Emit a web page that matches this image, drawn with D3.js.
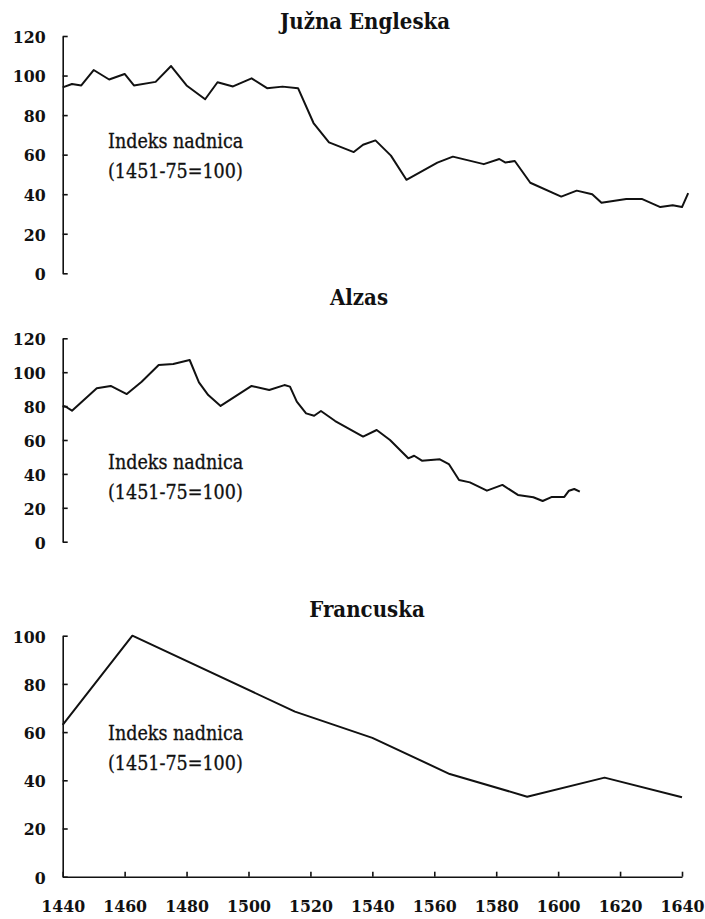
<!DOCTYPE html>
<html>
<head>
<meta charset="utf-8">
<script src="https://cdn.jsdelivr.net/npm/d3@7"></script>
<style>
  body { margin: 0; background: #fff; }
</style>
</head>
<body>
<div id="my_dataviz"></div>
<script>
var width = 705,
    height = 919

var serif = "'DejaVu Serif Condensed', 'DejaVu Serif'"

// data
var englandYears  = [1440, 1443, 1446, 1450, 1455, 1460, 1463, 1470, 1475, 1480, 1486, 1490, 1495, 1501, 1506, 1511, 1516, 1521, 1526, 1534, 1537, 1541, 1546, 1551, 1561, 1566, 1576, 1581, 1583, 1586, 1591, 1601, 1606, 1611, 1614, 1622, 1627, 1633, 1637, 1640, 1642]
var englandValues = [94, 95.7, 95, 102.8, 98, 100.8, 95, 96.8, 104.8, 95, 88, 96.6, 94.5, 98.6, 93.6, 94.4, 93.6, 76, 66.2, 61.3, 65, 67.2, 59.5, 47.3, 56, 59, 55.2, 57.8, 56, 56.8, 45.8, 38.8, 41.8, 40, 35.7, 37.6, 37.6, 33.5, 34.4, 33.5, 40.5]

var alsaceYears  = [1440, 1441, 1443, 1451, 1455.5, 1460.7, 1465.5, 1471, 1475.7, 1481, 1484, 1487, 1491, 1501, 1506.7, 1511.6, 1513.4, 1515.6, 1518.6, 1521.2, 1523.4, 1528, 1537, 1541.4, 1545.7, 1551.6, 1553.5, 1556, 1561.8, 1564.7, 1568, 1571.5, 1577, 1582, 1587, 1592, 1595, 1598, 1602, 1603.5, 1605.2, 1607]
var alsaceValues = [80.2, 79.6, 77.3, 90.5, 91.9, 87.1, 94.4, 104.2, 104.8, 107.2, 94, 86.5, 80.1, 91.9, 89.5, 92.4, 91.5, 82.6, 75.7, 74.3, 77.1, 71.2, 62, 65.9, 60, 49.2, 50.7, 47.8, 48.6, 45.8, 36.4, 35, 30.1, 33.5, 27.6, 26.2, 24, 26.4, 26.4, 30.1, 31.1, 29.5]

var franceYears  = [1440, 1462.5, 1515, 1540, 1565, 1590, 1615, 1640]
var franceValues = [63, 100, 68.5, 57.6, 42.6, 33.2, 41.1, 33]

var yearTicks = [1440, 1460, 1480, 1500, 1520, 1540, 1560, 1580, 1600, 1620, 1640]
var titles = ["Južna Engleska", "Alzas", "Francuska"]
var noteLines = ["Indeks nadnica", "(1451-75=100)"]

var panels = [
  {title: titles[0], years: englandYears, values: englandValues, max: 120, top: 36,    bottom: 273.3, titleX: 365, titleY: 29,  noteY: 148, xAxis: false},
  {title: titles[1], years: alsaceYears,  values: alsaceValues,  max: 120, top: 338.3, bottom: 541.7, titleX: 359, titleY: 305, noteY: 469, xAxis: false},
  {title: titles[2], years: franceYears,  values: franceValues,  max: 100, top: 635.7, bottom: 876.7, titleX: 367, titleY: 617, noteY: 740, xAxis: true}
]

var svg = d3.select("#my_dataviz")
  .append("svg")
    .attr("width", width)
    .attr("height", height)

var x = d3.scaleLinear()
  .domain([1440, 1640])
  .range([62.7, 682])

panels.forEach(function(p) {
  var y = d3.scaleLinear()
    .domain([0, p.max])
    .range([p.bottom, p.top])

  var g = svg.append("g")

  var yAxis = g.append("g")
    .attr("transform", "translate(" + x(1440) + ",0)")
    .call(d3.axisLeft(y)
      .tickValues(d3.range(0, p.max + 1, 20))
      .tickSize(-5)
      .tickSizeOuter(0)
      .tickPadding(17))

  yAxis.selectAll("text")
    .attr("dy", "0.36em")

  if (p.xAxis) {
    g.append("g")
      .attr("transform", "translate(0," + p.bottom + ")")
      .call(d3.axisBottom(x)
        .tickValues(yearTicks)
        .tickSize(-5)
        .tickSizeOuter(0)
        .tickPadding(23)
        .tickFormat(d3.format("d")))
  }

  g.selectAll("g.tick text")
    .attr("font-family", serif)
    .attr("font-size", 17.5)
    .attr("font-weight", "bold")
    .attr("fill", "#111")

  g.selectAll(".domain, .tick line")
    .attr("stroke", "#111")
    .attr("stroke-width", 1.6)

  var pts = p.years.map(function(d, i) { return [d, p.values[i]] })

  g.append("path")
    .datum(pts)
    .attr("fill", "none")
    .attr("stroke", "#111")
    .attr("stroke-width", 2)
    .attr("stroke-linejoin", "round")
    .attr("d", d3.line()
      .x(function(d) { return x(d[0]) })
      .y(function(d) { return y(d[1]) }))

  g.append("text")
    .attr("x", p.titleX)
    .attr("y", p.titleY)
    .attr("text-anchor", "middle")
    .attr("fill", "#111")
    .attr("font-family", serif)
    .attr("font-size", 22)
    .attr("font-weight", "bold")
    .text(p.title)

  g.selectAll("note")
    .data(noteLines)
    .enter()
    .append("text")
      .attr("x", 108)
      .attr("y", function(d, i) { return p.noteY + i * 30 })
      .attr("fill", "#111")
      .attr("stroke", "#111")
      .attr("stroke-width", 0.3)
      .attr("font-family", serif)
      .attr("font-size", 19.5)
      .text(function(d) { return d })
})
</script>
</body>
</html>
